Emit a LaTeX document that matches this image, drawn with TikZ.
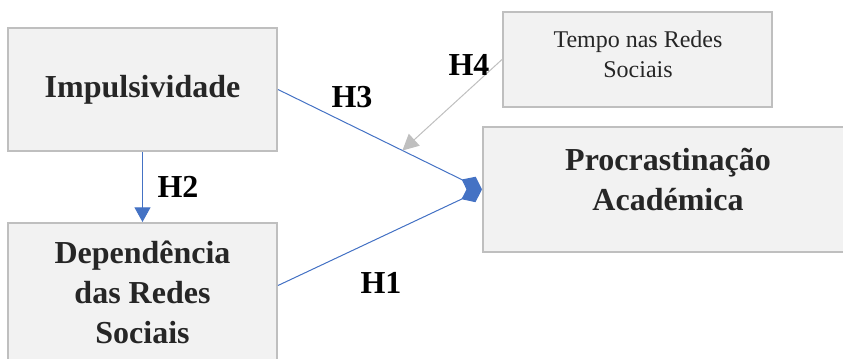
\documentclass[tikz,border=0pt]{standalone}
\usepackage{fontspec}
\setmainfont{Liberation Serif}
\usetikzlibrary{arrows.meta}
\usetikzlibrary{positioning}

\definecolor{boxfill}{HTML}{F2F2F2}
\definecolor{boxline}{HTML}{BFBFBF}
\definecolor{linkblue}{HTML}{4472C4}
\definecolor{boxtext}{HTML}{262626}

\tikzset{
  varbox/.style={rectangle,draw=boxline,fill=boxfill,line width=1.5pt,text=boxtext,align=center,inner sep=0pt},
  bigtext/.style={font=\fontsize{24}{30}\selectfont\bfseries},
  smalltext/.style={font=\fontsize{18}{22.5}\selectfont},
  hyplabel/.style={font=\fontsize{24}{30}\selectfont\bfseries,text=black},
  bluelink/.style={linkblue,line width=0.75pt},
}

\begin{document}
\begin{tikzpicture}[x=0.75pt,y=-0.75pt]
\useasboundingbox (0,0) rectangle (843,358);
% variables
\node[varbox,bigtext,minimum width=201.75pt,minimum height=92.25pt] (imp) at (142.5,89.5) {Impulsividade};
\node[varbox,bigtext,minimum width=201.75pt,minimum height=104.25pt] (dep) at (142.5,292.5) {Dependência\\das Redes\\Sociais};
\node[varbox,smalltext,minimum width=201.75pt,minimum height=71.25pt] (tempo) at (637.5,59.5) {};
\node[smalltext,text=boxtext,align=center] (tempotxt) at (638,54) {Tempo nas Redes\\Sociais};
\node[varbox,minimum width=277.5pt,minimum height=93.75pt] (proc) at (668,189.5) {};
\node[bigtext,text=boxtext,align=center] (proctxt) at (668,180) {Procrastinação\\Académica};

% hypotheses
\draw[bluelink,-{Triangle[length=11pt,width=12pt]}] (imp.south) -- (dep.north);
\draw[bluelink,-{Diamond[length=17pt,width=13pt]}] (imp.east) -- coordinate[pos=0.61] (mod) (proc.west);
\draw[bluelink,-{Diamond[length=17pt,width=13pt]}] ([yshift=5.25pt]dep.east) -- (proc.west);
\draw[boxline,line width=0.75pt,-{Triangle[length=12pt,width=12pt]}] (tempo.west) -- (mod);

\node[hyplabel] (h1) at (381,283) {H1};
\node[hyplabel] (h2) at (178,187) {H2};
\node[hyplabel] (h3) at (352,97) {H3};
\node[hyplabel] (h4) at (469,65) {H4};
\end{tikzpicture}
\end{document}
